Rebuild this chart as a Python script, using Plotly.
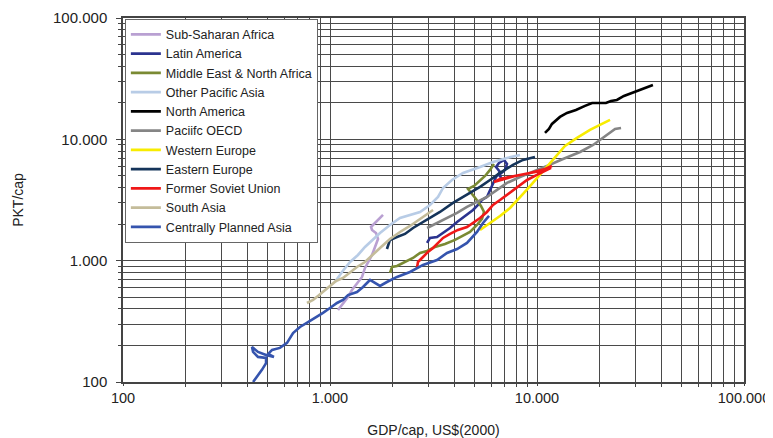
import plotly.graph_objects as go

# ---- data (GDP/cap US$2000, PKT/cap) ----
ssa_gdp = [1093, 1156, 1222, 1277, 1350, 1428, 1476, 1527, 1596, 1650, 1706, 1668, 1596, 1578, 1650, 1744, 1803]
ssa_pkt = [392, 448, 502, 573, 643, 734, 871, 975, 1114, 1297, 1510, 1692, 1791, 1896, 2045, 2249, 2381]

lam_gdp = [2944, 3041, 3289, 3516, 3800, 4110, 4345, 4590, 4908, 5188, 5423, 5733, 5930, 6129, 6340, 6627, 6340, 6550, 6930, 7160, 7000, 6550, 6850]
lam_pkt = [1400, 1539, 1568, 1692, 1860, 2084, 2249, 2381, 2617, 2878, 3164, 3350, 3828, 4372, 4897, 5385, 5920, 6385, 6765, 6270, 5595, 5090, 4625]

mena_gdp = [1949, 1994, 2107, 2253, 2518, 2722, 2944, 3215, 3594, 4018, 4394, 4745, 5130, 5423, 5547, 5360, 5072, 4800, 4645, 4966, 5306, 5610, 5930, 6196]
mena_pkt = [792, 887, 904, 957, 1052, 1157, 1202, 1297, 1374, 1482, 1599, 1724, 1968, 2207, 2520, 2825, 3228, 3614, 3900, 4130, 4540, 4990, 5595, 6270]

opa_gdp = [1057, 1143, 1250, 1365, 1476, 1596, 1744, 1949, 2178, 2722, 3041, 3325, 3516, 3882, 4394, 5306, 6129, 7160, 8278]
opa_pkt = [667, 807, 975, 1114, 1297, 1482, 1692, 1968, 2249, 2520, 2878, 3350, 3974, 4625, 5285, 5920, 6514, 7027, 7437]

nam_gdp = [10930, 11420, 11810, 12350, 12910, 13960, 15420, 17060, 18450, 20140, 21530, 22770, 24320, 26300, 28770, 31470, 33970, 36310]
nam_pkt = [11290, 12180, 13400, 14450, 15300, 16510, 17460, 18850, 19950, 19950, 19950, 20730, 21130, 22790, 24140, 25530, 27040, 28070]

poecd_gdp = [2944, 3289, 3675, 4110, 4590, 5130, 5733, 6412, 7160, 8278, 9570, 11170, 13360, 16140, 18660, 20850, 22540, 23830, 25470]
poecd_pkt = [1860, 2045, 2249, 2473, 2771, 3048, 3350, 3828, 4372, 4897, 5385, 6035, 6890, 7870, 8990, 10280, 11290, 12180, 12410]

weu_gdp = [5306, 5930, 6627, 7410, 8000, 8650, 9460, 10330, 11420, 12500, 13650, 15600, 18030, 20140, 22540]
weu_pkt = [1791, 2045, 2337, 2719, 3107, 3614, 4290, 5090, 6150, 7437, 8830, 10280, 11960, 13150, 14450]

eeu_gdp = [1884, 1949, 2107, 2303, 2518, 2944, 3398, 3928, 4590, 5306, 5930, 6627, 7655, 8555, 9775]
eeu_pkt = [1248, 1482, 1568, 1660, 1860, 2166, 2520, 2990, 3483, 4053, 4625, 5285, 6150, 6765, 7160]

fsu_gdp = [2632, 2661, 2814, 2972, 3146, 3325, 3516, 3800, 4150, 4590, 4966, 5306, 5733, 6129, 6627, 7160, 7740, 8278, 8950, 9775, 10690, 11690,
           10930, 9775, 8470, 7410, 6627, 6196, 7830, 9250, 10930, 11810]
fsu_pkt = [871, 975, 1072, 1180, 1273, 1400, 1539, 1660, 1791, 1896, 2084, 2249, 2520, 2878, 3164, 3483, 3828, 4210, 4625, 4990, 5385, 5810,
           5595, 5385, 5090, 4897, 4715, 4455, 4990, 5285, 5700, 6035]

sas_gdp = [774, 828, 875, 925, 1000, 1069, 1156, 1250, 1350, 1476, 1614, 1744, 1949, 2178, 2434, 2722, 3146]
sas_pkt = [448, 474, 512, 552, 619, 680, 720, 807, 887, 975, 1114, 1273, 1510, 1724, 1932, 2207, 2617]

cpa_gdp = [425, 444, 469, 491, 491, 449, 425, 420, 449, 491, 536, 502, 525, 573, 620, 663, 716, 783, 865, 925, 1000, 1081, 1156, 1222,
           1350, 1444, 1560, 1744, 1884, 2107, 2434, 2814, 3289, 3675, 4110, 4590, 5130, 5485, 5865]
cpa_pkt = [100, 110, 126, 143, 158, 161, 177, 194, 177, 167, 161, 170, 184, 191, 210, 253, 284, 312, 343, 371, 407, 448, 474, 521,
           552, 607, 693, 619, 667, 734, 807, 922, 1013, 1157, 1248, 1400, 1724, 2045, 2337]

series_names = ["Sub-Saharan Africa", "Latin America", "Middle East & North Africa", "Other Pacific Asia",
                "North America", "Paciifc OECD", "Western Europe", "Eastern Europe",
                "Former Soviet Union", "South Asia", "Centrally Planned Asia"]
series_x = [ssa_gdp, lam_gdp, mena_gdp, opa_gdp, nam_gdp, poecd_gdp, weu_gdp, eeu_gdp, fsu_gdp, sas_gdp, cpa_gdp]
series_y = [ssa_pkt, lam_pkt, mena_pkt, opa_pkt, nam_pkt, poecd_pkt, weu_pkt, eeu_pkt, fsu_pkt, sas_pkt, cpa_pkt]
series_colors = ["#B9A0D2", "#2B338F", "#7A8A33", "#B8CCE6", "#000000", "#858585",
                 "#F8EC00", "#15345A", "#F01818", "#C4BC9A", "#3554AE"]

major_vals = [100, 1000, 10000, 100000]
major_text = ["100", "1.000", "10.000", "100.000"]
minor_vals = [m * d for d in [100, 1000, 10000] for m in range(2, 10)]

fig = go.Figure()
for name, xs, ys, col in zip(series_names, series_x, series_y, series_colors):
    fig.add_trace(go.Scatter(x=xs, y=ys, mode="lines", name=name,
                             line=dict(color=col, width=2.6)))

axis_common = dict(
    type="log",
    automargin=False,
    tickmode="array",
    tickvals=major_vals,
    ticktext=major_text,
    showgrid=True,
    gridcolor="#4a4a4a",
    gridwidth=1,
    ticks="outside",
    tickcolor="#444",
    showline=True,
    linecolor="#444",
    linewidth=1.5,
    mirror=True,
    zeroline=False,
    tickfont=dict(family="Liberation Sans, Arial", size=15, color="#222"),
    minor=dict(tickmode="array", tickvals=minor_vals, showgrid=True, gridcolor="#4a4a4a",
               gridwidth=1, ticks="outside", ticklen=3, tickcolor="#444"),
)

# the page body adds an 8px offset, so the figure is 8px smaller than the window
fig.update_layout(
    width=765, height=430,
    margin=dict(l=115, r=29, t=10, b=56),
    paper_bgcolor="white",
    plot_bgcolor="white",
    font=dict(family="Liberation Sans, Arial", size=13, color="#222"),
    xaxis=dict(axis_common, range=[2, 5], ticklen=2,
               tickfont=dict(family="Liberation Sans, Arial", size=14.5, color="#222"),
               title=dict(text="GDP/cap, US$(2000)", standoff=24,
                          font=dict(size=14, color="#222"))),
    yaxis=dict(axis_common, range=[2, 5], ticklen=5, ticklabelstandoff=6,
               title=dict(text="PKT/cap", standoff=26,
                          font=dict(size=14, color="#222"))),
    legend=dict(x=0.003, y=0.998, xanchor="left", yanchor="top",
                bgcolor="white", bordercolor="#666", borderwidth=1,
                font=dict(family="Liberation Sans, Arial", size=12.5, color="#222"),
                itemwidth=30, tracegroupgap=0),
    showlegend=True,
)

fig.write_html("out.html")
